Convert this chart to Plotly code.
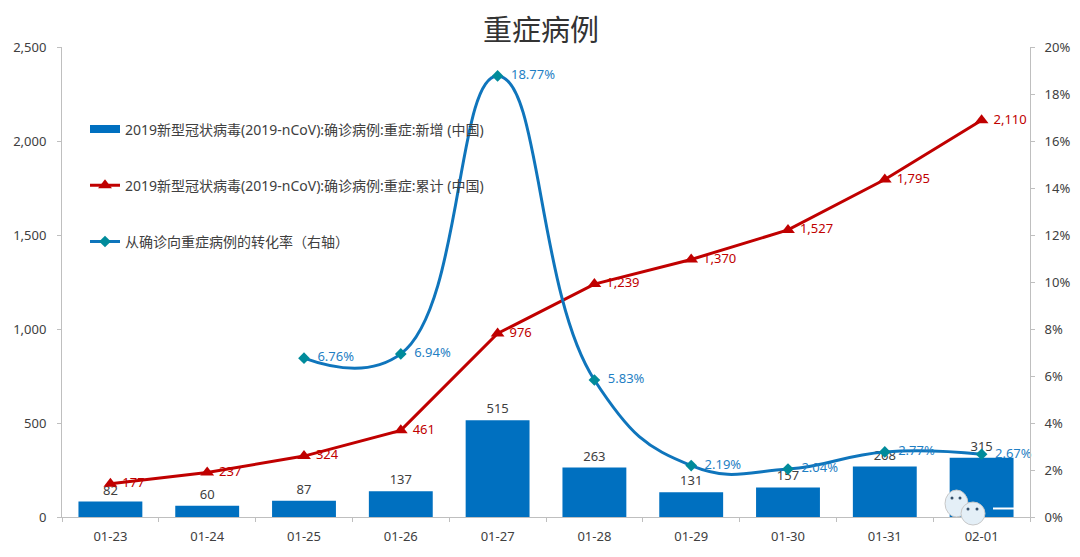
import plotly.graph_objects as go

categories = ["01-23","01-24","01-25","01-26","01-27","01-28","01-29","01-30","01-31","02-01"]
new_severe = [82,60,87,137,515,263,131,157,268,315]
total_severe = [177,237,324,461,976,1239,1370,1527,1795,2110]
conversion = [None,None,6.76,6.94,18.77,5.83,2.19,2.04,2.77,2.67]
name_new = "2019新型冠状病毒(2019-nCoV):确诊病例:重症:新增 (中国)"
name_total = "2019新型冠状病毒(2019-nCoV):确诊病例:重症:累计 (中国)"
name_rate = "从确诊向重症病例的转化率（右轴）"
title = "重症病例"
FONT = "'Noto Sans','Noto Sans CJK SC',sans-serif"

W, H = 1064, 541   # page body has an 8 px margin in the 1080x557 window
# pixel position in the window -> fraction of the plot area
def px(x): return (x - 62) / 968
def py(y): return 1 - (y - 47) / 470

fig = go.Figure()
fig.add_bar(x=categories, y=new_severe, name=name_new, marker=dict(color="#0070C0", line=dict(width=0)),
            width=0.66, text=[str(v) for v in new_severe], textposition="outside", cliponaxis=False,
            textfont=dict(color="#404040", size=13), showlegend=False)
fig.add_scatter(x=[None], y=[None], name=name_new, mode="lines", line=dict(color="#0070C0", width=8),
                legendgroup="a")
fig.add_scatter(x=categories, y=total_severe, name=name_total, mode="lines+markers+text",
                line=dict(color="#C00000", width=3), marker=dict(symbol="triangle-up", size=12, color="#C00000"),
                text=[" "+format(v, ",") for v in total_severe], textposition="middle right",
                textfont=dict(color="#C00000", size=13), cliponaxis=False, legendgroup="b")
fig.add_scatter(x=categories, y=conversion, name=name_rate, mode="lines+markers+text", yaxis="y2",
                line=dict(color="#0F75BC", width=3, shape="spline", smoothing=1.3),
                marker=dict(symbol="diamond", size=9, color="#008B9B"),
                text=["" if v is None else f"  {v:.2f}%" for v in conversion], textposition="middle right",
                textfont=dict(color="#1F7FC4", size=13), cliponaxis=False, connectgaps=False, legendgroup="c")

AX = "#BFBFBF"
shapes = []
for x0, y0, x1, y1 in [(945, 490, 968, 517), (961, 502, 985, 525)]:
    shapes.append(dict(type="circle", xref="paper", yref="paper", x0=px(x0), x1=px(x1), y0=py(y1), y1=py(y0),
                       fillcolor="#E4EFF7", line=dict(color="#C8C8C8", width=1), layer="above"))
for x, y in [(952, 498), (960, 498), (968, 509), (977, 509)]:
    shapes.append(dict(type="circle", xref="paper", yref="paper", x0=px(x-1.5), x1=px(x+1.5), y0=py(y+1.5), y1=py(y-1.5),
                       fillcolor="#35506B", line=dict(width=0), layer="above"))
shapes.append(dict(type="line", xref="paper", yref="paper", x0=px(993), x1=px(1017), y0=py(508.5), y1=py(508.5),
                   line=dict(color="white", width=2), layer="above"))

fig.update_layout(
    width=W, height=H, margin=dict(l=54, r=42, t=39, b=32),
    paper_bgcolor="white", plot_bgcolor="white",
    font=dict(family=FONT, size=13, color="#404040"),
    title=dict(text=title, x=0.501, xanchor="center", y=0.957, yanchor="middle",
               font=dict(size=29, color="#333333")),
    barmode="overlay", shapes=shapes,
    xaxis=dict(type="category", categoryorder="array", categoryarray=categories, tickson="boundaries",
               range=[-0.5, 9.5],
               ticks="outside", ticklen=4, tickcolor=AX, showline=True, linecolor=AX, showgrid=False,
               tickfont=dict(size=13), ticklabelstandoff=7, automargin=False),
    yaxis=dict(range=[0,2500], dtick=500, tickformat=",d", ticks="outside", ticklen=4, tickcolor=AX,
               showline=True, linecolor=AX, showgrid=False, zeroline=False, tickfont=dict(size=13),
               ticklabelstandoff=8, automargin=False),
    yaxis2=dict(range=[0,20], dtick=2, ticksuffix="%", overlaying="y", side="right", ticks="outside",
                ticklen=4, tickcolor=AX, showline=True, linecolor=AX, showgrid=False, zeroline=False,
                tickfont=dict(size=13), ticklabelstandoff=7, automargin=False),
    legend=dict(x=px(85), xanchor="left", y=py(113.5), yanchor="top", bgcolor="rgba(0,0,0,0)",
                tracegroupgap=35, font=dict(size=14, color="#404040"), itemwidth=30),
    showlegend=True,
)
fig.write_html("out.html")
